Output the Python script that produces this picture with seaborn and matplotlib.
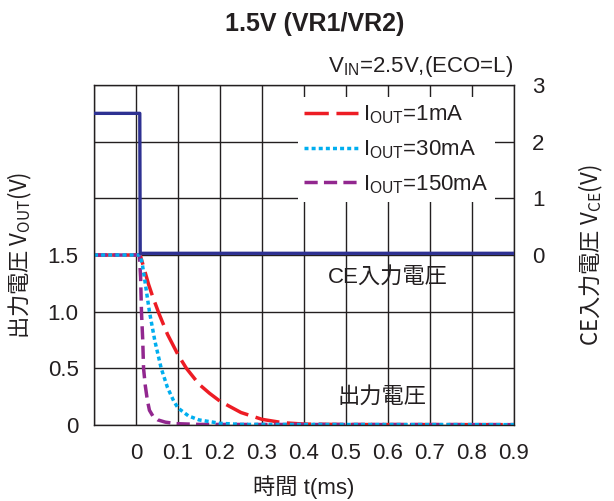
import numpy as np
import pandas as pd
import matplotlib
matplotlib.use('Agg')
import matplotlib.pyplot as plt
import seaborn as sns

# time (ms) / output voltage (V) for each load current
t_1ma = [-0.1, 0.0, 0.01, 0.02, 0.03, 0.04, 0.055, 0.075, 0.1, 0.12, 0.15, 0.175, 0.2, 0.25, 0.3, 0.35, 0.4, 0.5, 0.9]
v_1ma = [1.5, 1.5, 1.5, 1.37, 1.24, 1.13, 0.98, 0.80, 0.62, 0.50, 0.36, 0.28, 0.21, 0.11, 0.05, 0.02, 0.008, 0.004, 0.003]

t_30ma = [-0.1, 0.0, 0.01, 0.015, 0.02, 0.032, 0.045, 0.06, 0.075, 0.09, 0.1, 0.125, 0.15, 0.2, 0.25, 0.9]
v_30ma = [1.5, 1.5, 1.5, 1.42, 1.30, 1.0, 0.74, 0.50, 0.33, 0.21, 0.15, 0.08, 0.045, 0.015, 0.005, 0.003]

t_150ma = [-0.1, 0.0, 0.008, 0.011, 0.013, 0.016, 0.018, 0.022, 0.027, 0.032, 0.04, 0.052, 0.07, 0.095, 0.15, 0.9]
v_150ma = [1.5, 1.5, 1.5, 1.3, 1.0, 0.75, 0.5, 0.35, 0.22, 0.13, 0.08, 0.045, 0.025, 0.012, 0.005, 0.003]

# CE input voltage (right axis)
t_ce = [-0.1, 0.009, 0.01, 0.9]
v_ce = [2.5, 2.5, 0.03, 0.03]

labels = ['I$_{\\mathregular{OUT}}$=1mA', 'I$_{\\mathregular{OUT}}$=30mA', 'I$_{\\mathregular{OUT}}$=150mA']
xticklabels = ['0', '0.1', '0.2', '0.3', '0.4', '0.5', '0.6', '0.7', '0.8', '0.9']

sns.set_style('white')
plt.rcParams['font.family'] = ['Liberation Sans', 'Noto Sans CJK JP']
plt.rcParams['mathtext.fontset'] = 'custom'
plt.rcParams['mathtext.rm'] = 'Liberation Sans'
FS = 16
INK = '#231f20'

fig = plt.figure(figsize=(6.14, 5.01), dpi=100)
ax = fig.add_axes([0.1531, 0.1517, 0.684, 0.6786])

df = pd.concat([
    pd.DataFrame({'t': t_1ma, 'v': v_1ma, 'load': labels[0]}),
    pd.DataFrame({'t': t_30ma, 'v': v_30ma, 'load': labels[1]}),
    pd.DataFrame({'t': t_150ma, 'v': v_150ma, 'load': labels[2]}),
])
colors = {labels[0]: '#ed1c24', labels[1]: '#00aeef', labels[2]: '#92278f'}
dashes = {labels[0]: (7.0, 2.2), labels[1]: (1.15, 0.9), labels[2]: (3.8, 1.8)}
handles = {}
# draw order: red, purple, cyan on top
for lab in [labels[0], labels[2], labels[1]]:
    sub = df[df.load == lab]
    sns.lineplot(data=sub, x='t', y='v', ax=ax, color=colors[lab], lw=2.5,
                 estimator=None, sort=False, legend=False)
    ln = ax.lines[-1]
    ln.set_dashes(dashes[lab])
    ln.set_dash_capstyle('butt')
    handles[lab] = ln

ax.set_xlim(-0.1, 0.9)
ax.set_ylim(0, 3)
ax.set_xticks(np.arange(-0.1, 0.91, 0.1))
ax.set_xticklabels([''] + xticklabels, fontsize=FS)
ax.set_yticks(np.arange(0, 3.01, 0.5))
ax.set_yticklabels(['0', '0.5', '1.0', '1.5', '', '', ''], fontsize=FS)
ax.tick_params(axis='x', length=0, pad=13, colors=INK)
ax.tick_params(axis='y', length=0, pad=11, colors=INK)
ax.grid(True, color=INK, lw=1.0)
for s in ax.spines.values():
    s.set_color(INK)
    s.set_linewidth(1.0)
ax.set_xlabel('時間 t(ms)', fontsize=FS, color=INK)
ax.xaxis.set_label_coords(0.5, -0.147)
ax.set_ylabel('出力電圧 V$_{\\mathregular{OUT}}$(V)', fontsize=FS, color=INK,
              fontfamily='Noto Sans CJK JP')
ax.yaxis.set_label_coords(-0.143, 0.5)

ax2 = ax.twinx()
sns.lineplot(x=t_ce, y=v_ce, ax=ax2, color='#2e3192', lw=2.4, estimator=None,
             sort=False, legend=False)
ax2.set_ylim(-3, 3)
ax2.set_yticks([0, 1, 2, 3])
ax2.set_yticklabels(['0', '1', '2', '3'], fontsize=FS)
ax2.tick_params(length=0, pad=13, colors=INK)
ax2.set_ylabel('CE入力電圧 V$_{\\mathregular{CE}}$(V)', fontsize=FS, color=INK,
               fontfamily='Noto Sans CJK JP')
ax2.yaxis.set_label_position('right')
ax2.yaxis.set_label_coords(1.15, 0.5)
for s in ax2.spines.values():
    s.set_visible(False)

leg = ax2.legend(handles=[handles[l] for l in labels], labels=labels, loc='upper right',
                 bbox_to_anchor=(0.955, 0.965), borderaxespad=0, fontsize=FS,
                 frameon=True, facecolor='white', edgecolor='none', framealpha=1,
                 fancybox=False, handlelength=2.4, labelspacing=0.55,
                 borderpad=0.3, handletextpad=0.25)
for txt in leg.get_texts():
    txt.set_color(INK)

ax2.text(0.70, 0.435, 'CE入力電圧', transform=ax.transAxes, ha='center', va='center',
         fontsize=FS, color=INK)
ax2.text(0.686, 0.082, '出力電圧', transform=ax.transAxes, ha='center', va='center',
         fontsize=FS, color=INK)

fig.text(0.512, 0.952, '1.5V (VR1/VR2)', ha='center', va='center', fontsize=18,
         fontweight='bold', color=INK)
fig.text(0.8355, 0.856, 'V$_{\\mathregular{IN}}$=2.5V,(ECO=L)', ha='right', va='baseline',
         fontsize=FS, color=INK)

fig.savefig('out.png', dpi=100)
